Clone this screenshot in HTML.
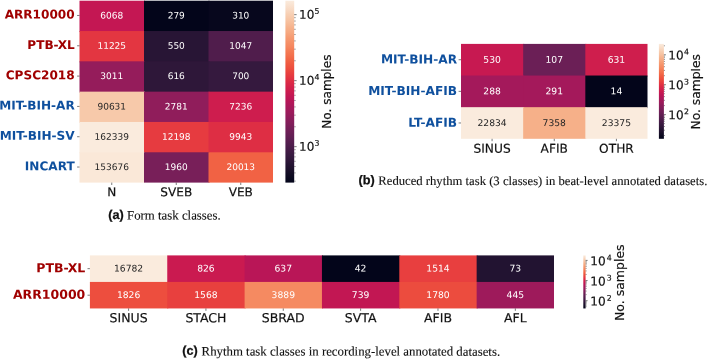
<!DOCTYPE html>
<html><head><meta charset="utf-8"><title>Figure</title>
<style>
html,body{margin:0;padding:0;background:#fff;}
svg{display:block;font-family:"DejaVu Sans","Liberation Sans",sans-serif;}
.bk{fill:#111;stroke:#111;stroke-width:0.18;}
.tk{stroke:#333;stroke-width:0.65;}
.tk2{stroke:#444;stroke-width:0.55;}
.cl{font-family:"Liberation Sans",sans-serif;font-weight:bold;fill:#111;stroke:#111;stroke-width:0.25;}
.ct{font-family:"Liberation Serif",serif;fill:#111;stroke:#111;stroke-width:0.12;}
</style></head><body>
<svg width="708" height="359" viewBox="0 0 708 359">
<defs><linearGradient id="ga" x1="0" y1="0" x2="0" y2="1"><stop offset="0.0000" stop-color="#faebdd"/><stop offset="0.0250" stop-color="#f9e2d0"/><stop offset="0.0500" stop-color="#f8d9c3"/><stop offset="0.0750" stop-color="#f7cfb3"/><stop offset="0.1000" stop-color="#f7c6a6"/><stop offset="0.1250" stop-color="#f6bc99"/><stop offset="0.1500" stop-color="#f6b18b"/><stop offset="0.1750" stop-color="#f6a880"/><stop offset="0.2000" stop-color="#f69c73"/><stop offset="0.2250" stop-color="#f59269"/><stop offset="0.2500" stop-color="#f58860"/><stop offset="0.2750" stop-color="#f47c55"/><stop offset="0.3000" stop-color="#f3714d"/><stop offset="0.3250" stop-color="#f16445"/><stop offset="0.3500" stop-color="#ef5840"/><stop offset="0.3750" stop-color="#ec4c3e"/><stop offset="0.4000" stop-color="#e83f3f"/><stop offset="0.4250" stop-color="#e23442"/><stop offset="0.4500" stop-color="#db2946"/><stop offset="0.4750" stop-color="#d3214b"/><stop offset="0.5000" stop-color="#cb1b4f"/><stop offset="0.5250" stop-color="#c11754"/><stop offset="0.5500" stop-color="#b71657"/><stop offset="0.5750" stop-color="#ab185a"/><stop offset="0.6000" stop-color="#a11a5b"/><stop offset="0.6250" stop-color="#971c5b"/><stop offset="0.6500" stop-color="#8b1d5b"/><stop offset="0.6750" stop-color="#811e5a"/><stop offset="0.7000" stop-color="#751f58"/><stop offset="0.7250" stop-color="#6b1f56"/><stop offset="0.7500" stop-color="#611f53"/><stop offset="0.7750" stop-color="#561e4f"/><stop offset="0.8000" stop-color="#4c1d4b"/><stop offset="0.8250" stop-color="#421b45"/><stop offset="0.8500" stop-color="#381a40"/><stop offset="0.8750" stop-color="#30173a"/><stop offset="0.9000" stop-color="#251433"/><stop offset="0.9250" stop-color="#1d112c"/><stop offset="0.9500" stop-color="#130d25"/><stop offset="0.9750" stop-color="#0a091f"/><stop offset="1.0000" stop-color="#03051a"/></linearGradient><linearGradient id="gb" x1="0" y1="0" x2="0" y2="1"><stop offset="0.0000" stop-color="#faebdd"/><stop offset="0.0250" stop-color="#f9e2d0"/><stop offset="0.0500" stop-color="#f8d9c3"/><stop offset="0.0750" stop-color="#f7cfb3"/><stop offset="0.1000" stop-color="#f7c6a6"/><stop offset="0.1250" stop-color="#f6bc99"/><stop offset="0.1500" stop-color="#f6b18b"/><stop offset="0.1750" stop-color="#f6a880"/><stop offset="0.2000" stop-color="#f69c73"/><stop offset="0.2250" stop-color="#f59269"/><stop offset="0.2500" stop-color="#f58860"/><stop offset="0.2750" stop-color="#f47c55"/><stop offset="0.3000" stop-color="#f3714d"/><stop offset="0.3250" stop-color="#f16445"/><stop offset="0.3500" stop-color="#ef5840"/><stop offset="0.3750" stop-color="#ec4c3e"/><stop offset="0.4000" stop-color="#e83f3f"/><stop offset="0.4250" stop-color="#e23442"/><stop offset="0.4500" stop-color="#db2946"/><stop offset="0.4750" stop-color="#d3214b"/><stop offset="0.5000" stop-color="#cb1b4f"/><stop offset="0.5250" stop-color="#c11754"/><stop offset="0.5500" stop-color="#b71657"/><stop offset="0.5750" stop-color="#ab185a"/><stop offset="0.6000" stop-color="#a11a5b"/><stop offset="0.6250" stop-color="#971c5b"/><stop offset="0.6500" stop-color="#8b1d5b"/><stop offset="0.6750" stop-color="#811e5a"/><stop offset="0.7000" stop-color="#751f58"/><stop offset="0.7250" stop-color="#6b1f56"/><stop offset="0.7500" stop-color="#611f53"/><stop offset="0.7750" stop-color="#561e4f"/><stop offset="0.8000" stop-color="#4c1d4b"/><stop offset="0.8250" stop-color="#421b45"/><stop offset="0.8500" stop-color="#381a40"/><stop offset="0.8750" stop-color="#30173a"/><stop offset="0.9000" stop-color="#251433"/><stop offset="0.9250" stop-color="#1d112c"/><stop offset="0.9500" stop-color="#130d25"/><stop offset="0.9750" stop-color="#0a091f"/><stop offset="1.0000" stop-color="#03051a"/></linearGradient><linearGradient id="gc" x1="0" y1="0" x2="0" y2="1"><stop offset="0.0000" stop-color="#faebdd"/><stop offset="0.0250" stop-color="#f9e2d0"/><stop offset="0.0500" stop-color="#f8d9c3"/><stop offset="0.0750" stop-color="#f7cfb3"/><stop offset="0.1000" stop-color="#f7c6a6"/><stop offset="0.1250" stop-color="#f6bc99"/><stop offset="0.1500" stop-color="#f6b18b"/><stop offset="0.1750" stop-color="#f6a880"/><stop offset="0.2000" stop-color="#f69c73"/><stop offset="0.2250" stop-color="#f59269"/><stop offset="0.2500" stop-color="#f58860"/><stop offset="0.2750" stop-color="#f47c55"/><stop offset="0.3000" stop-color="#f3714d"/><stop offset="0.3250" stop-color="#f16445"/><stop offset="0.3500" stop-color="#ef5840"/><stop offset="0.3750" stop-color="#ec4c3e"/><stop offset="0.4000" stop-color="#e83f3f"/><stop offset="0.4250" stop-color="#e23442"/><stop offset="0.4500" stop-color="#db2946"/><stop offset="0.4750" stop-color="#d3214b"/><stop offset="0.5000" stop-color="#cb1b4f"/><stop offset="0.5250" stop-color="#c11754"/><stop offset="0.5500" stop-color="#b71657"/><stop offset="0.5750" stop-color="#ab185a"/><stop offset="0.6000" stop-color="#a11a5b"/><stop offset="0.6250" stop-color="#971c5b"/><stop offset="0.6500" stop-color="#8b1d5b"/><stop offset="0.6750" stop-color="#811e5a"/><stop offset="0.7000" stop-color="#751f58"/><stop offset="0.7250" stop-color="#6b1f56"/><stop offset="0.7500" stop-color="#611f53"/><stop offset="0.7750" stop-color="#561e4f"/><stop offset="0.8000" stop-color="#4c1d4b"/><stop offset="0.8250" stop-color="#421b45"/><stop offset="0.8500" stop-color="#381a40"/><stop offset="0.8750" stop-color="#30173a"/><stop offset="0.9000" stop-color="#251433"/><stop offset="0.9250" stop-color="#1d112c"/><stop offset="0.9500" stop-color="#130d25"/><stop offset="0.9750" stop-color="#0a091f"/><stop offset="1.0000" stop-color="#03051a"/></linearGradient></defs>
<rect width="708" height="359" fill="#fff"/>
<rect x="79.50" y="0.70" width="65.50" height="31.32" fill="#c41753"/>
<rect x="144.00" y="0.70" width="65.50" height="31.32" fill="#03051a"/>
<rect x="208.50" y="0.70" width="64.50" height="31.32" fill="#07071d"/>
<rect x="79.50" y="31.02" width="65.50" height="31.32" fill="#e33641"/>
<rect x="144.00" y="31.02" width="65.50" height="31.32" fill="#281535"/>
<rect x="208.50" y="31.02" width="64.50" height="31.32" fill="#501d4c"/>
<rect x="79.50" y="61.33" width="65.50" height="31.32" fill="#951c5b"/>
<rect x="144.00" y="61.33" width="65.50" height="31.32" fill="#2e1739"/>
<rect x="208.50" y="61.33" width="64.50" height="31.32" fill="#35193e"/>
<rect x="79.50" y="91.65" width="65.50" height="31.32" fill="#f7c9aa"/>
<rect x="144.00" y="91.65" width="65.50" height="31.32" fill="#901d5b"/>
<rect x="208.50" y="91.65" width="64.50" height="31.32" fill="#ce1d4e"/>
<rect x="79.50" y="121.97" width="65.50" height="31.32" fill="#faebdd"/>
<rect x="144.00" y="121.97" width="65.50" height="31.32" fill="#e63b40"/>
<rect x="208.50" y="121.97" width="64.50" height="31.32" fill="#de2e44"/>
<rect x="79.50" y="152.28" width="65.50" height="30.32" fill="#fae8d8"/>
<rect x="144.00" y="152.28" width="65.50" height="30.32" fill="#781f59"/>
<rect x="208.50" y="152.28" width="64.50" height="30.32" fill="#f16244"/>
<text transform="translate(111.75,18.46) rotate(0.04)" font-size="9.0" fill="#ffffff" text-anchor="middle">6068</text>
<text transform="translate(176.25,18.46) rotate(0.04)" font-size="9.0" fill="#ffffff" text-anchor="middle">279</text>
<text transform="translate(240.75,18.46) rotate(0.04)" font-size="9.0" fill="#ffffff" text-anchor="middle">310</text>
<text transform="translate(111.75,48.78) rotate(0.04)" font-size="9.0" fill="#ffffff" text-anchor="middle">11225</text>
<text transform="translate(176.25,48.78) rotate(0.04)" font-size="9.0" fill="#ffffff" text-anchor="middle">550</text>
<text transform="translate(240.75,48.78) rotate(0.04)" font-size="9.0" fill="#ffffff" text-anchor="middle">1047</text>
<text transform="translate(111.75,79.09) rotate(0.04)" font-size="9.0" fill="#ffffff" text-anchor="middle">3011</text>
<text transform="translate(176.25,79.09) rotate(0.04)" font-size="9.0" fill="#ffffff" text-anchor="middle">616</text>
<text transform="translate(240.75,79.09) rotate(0.04)" font-size="9.0" fill="#ffffff" text-anchor="middle">700</text>
<text transform="translate(111.75,109.41) rotate(0.04)" font-size="9.0" fill="#262626" text-anchor="middle">90631</text>
<text transform="translate(176.25,109.41) rotate(0.04)" font-size="9.0" fill="#ffffff" text-anchor="middle">2781</text>
<text transform="translate(240.75,109.41) rotate(0.04)" font-size="9.0" fill="#ffffff" text-anchor="middle">7236</text>
<text transform="translate(111.75,139.72) rotate(0.04)" font-size="9.0" fill="#262626" text-anchor="middle">162339</text>
<text transform="translate(176.25,139.72) rotate(0.04)" font-size="9.0" fill="#ffffff" text-anchor="middle">12198</text>
<text transform="translate(240.75,139.72) rotate(0.04)" font-size="9.0" fill="#ffffff" text-anchor="middle">9943</text>
<text transform="translate(111.75,170.04) rotate(0.04)" font-size="9.0" fill="#262626" text-anchor="middle">153676</text>
<text transform="translate(176.25,170.04) rotate(0.04)" font-size="9.0" fill="#ffffff" text-anchor="middle">1960</text>
<text transform="translate(240.75,170.04) rotate(0.04)" font-size="9.0" fill="#ffffff" text-anchor="middle">20013</text>
<line x1="77.10" x2="79.50" y1="15.46" y2="15.46" class="tk"/>
<text transform="translate(74.70,18.61) rotate(0.04)" font-size="12.1" font-weight="bold" fill="#a00000" text-anchor="end">ARR10000</text>
<line x1="77.10" x2="79.50" y1="45.78" y2="45.78" class="tk"/>
<text transform="translate(74.70,48.93) rotate(0.04)" font-size="12.1" font-weight="bold" fill="#a00000" text-anchor="end">PTB-XL</text>
<line x1="77.10" x2="79.50" y1="76.09" y2="76.09" class="tk"/>
<text transform="translate(74.70,79.24) rotate(0.04)" font-size="12.1" font-weight="bold" fill="#a00000" text-anchor="end">CPSC2018</text>
<line x1="77.10" x2="79.50" y1="106.41" y2="106.41" class="tk"/>
<text transform="translate(74.70,109.56) rotate(0.04)" font-size="12.1" font-weight="bold" fill="#0f509e" text-anchor="end">MIT-BIH-AR</text>
<line x1="77.10" x2="79.50" y1="136.72" y2="136.72" class="tk"/>
<text transform="translate(74.70,139.88) rotate(0.04)" font-size="12.1" font-weight="bold" fill="#0f509e" text-anchor="end">MIT-BIH-SV</text>
<line x1="77.10" x2="79.50" y1="167.04" y2="167.04" class="tk"/>
<text transform="translate(74.70,170.19) rotate(0.04)" font-size="12.1" font-weight="bold" fill="#0f509e" text-anchor="end">INCART</text>
<line x1="111.75" x2="111.75" y1="182.60" y2="185.00" class="tk"/>
<text transform="translate(111.75,196.30) rotate(0.04)" font-size="12.1" class="bk" text-anchor="middle">N</text>
<line x1="176.25" x2="176.25" y1="182.60" y2="185.00" class="tk"/>
<text transform="translate(176.25,196.30) rotate(0.04)" font-size="12.1" class="bk" text-anchor="middle">SVEB</text>
<line x1="240.75" x2="240.75" y1="182.60" y2="185.00" class="tk"/>
<text transform="translate(240.75,196.30) rotate(0.04)" font-size="12.1" class="bk" text-anchor="middle">VEB</text>
<rect x="285.40" y="0.70" width="8.80" height="181.90" fill="url(#ga)"/>
<line x1="294.20" x2="295.70" y1="181.16" y2="181.16" class="tk2"/>
<line x1="294.20" x2="295.70" y1="172.91" y2="172.91" class="tk2"/>
<line x1="294.20" x2="295.70" y1="166.52" y2="166.52" class="tk2"/>
<line x1="294.20" x2="295.70" y1="161.29" y2="161.29" class="tk2"/>
<line x1="294.20" x2="295.70" y1="156.87" y2="156.87" class="tk2"/>
<line x1="294.20" x2="295.70" y1="153.05" y2="153.05" class="tk2"/>
<line x1="294.20" x2="295.70" y1="149.67" y2="149.67" class="tk2"/>
<line x1="294.20" x2="296.60" y1="146.65" y2="146.65" class="tk"/>
<text transform="translate(299.00,150.75) rotate(0.04)" font-size="12" class="bk">10<tspan dx="0.3" dy="-4.9" font-size="7.8">3</tspan></text>
<line x1="294.20" x2="295.70" y1="126.78" y2="126.78" class="tk2"/>
<line x1="294.20" x2="295.70" y1="115.16" y2="115.16" class="tk2"/>
<line x1="294.20" x2="295.70" y1="106.91" y2="106.91" class="tk2"/>
<line x1="294.20" x2="295.70" y1="100.52" y2="100.52" class="tk2"/>
<line x1="294.20" x2="295.70" y1="95.29" y2="95.29" class="tk2"/>
<line x1="294.20" x2="295.70" y1="90.87" y2="90.87" class="tk2"/>
<line x1="294.20" x2="295.70" y1="87.05" y2="87.05" class="tk2"/>
<line x1="294.20" x2="295.70" y1="83.67" y2="83.67" class="tk2"/>
<line x1="294.20" x2="296.60" y1="80.65" y2="80.65" class="tk"/>
<text transform="translate(299.00,84.75) rotate(0.04)" font-size="12" class="bk">10<tspan dx="0.3" dy="-4.9" font-size="7.8">4</tspan></text>
<line x1="294.20" x2="295.70" y1="60.78" y2="60.78" class="tk2"/>
<line x1="294.20" x2="295.70" y1="49.16" y2="49.16" class="tk2"/>
<line x1="294.20" x2="295.70" y1="40.91" y2="40.91" class="tk2"/>
<line x1="294.20" x2="295.70" y1="34.52" y2="34.52" class="tk2"/>
<line x1="294.20" x2="295.70" y1="29.29" y2="29.29" class="tk2"/>
<line x1="294.20" x2="295.70" y1="24.87" y2="24.87" class="tk2"/>
<line x1="294.20" x2="295.70" y1="21.05" y2="21.05" class="tk2"/>
<line x1="294.20" x2="295.70" y1="17.67" y2="17.67" class="tk2"/>
<line x1="294.20" x2="296.60" y1="14.65" y2="14.65" class="tk"/>
<text transform="translate(299.00,18.75) rotate(0.04)" font-size="12" class="bk">10<tspan dx="0.3" dy="-4.9" font-size="7.8">5</tspan></text>
<text transform="translate(331.00,91.65) rotate(-90)" font-size="12.1" class="bk" text-anchor="middle">No. samples</text>
<rect x="461.00" y="43.90" width="63.17" height="32.63" fill="#c71951"/>
<rect x="523.17" y="43.90" width="63.17" height="32.63" fill="#6b1f56"/>
<rect x="585.33" y="43.90" width="62.17" height="32.63" fill="#cf1e4d"/>
<rect x="461.00" y="75.53" width="63.17" height="32.63" fill="#a4195b"/>
<rect x="523.17" y="75.53" width="63.17" height="32.63" fill="#a4195b"/>
<rect x="585.33" y="75.53" width="62.17" height="32.63" fill="#03051a"/>
<rect x="461.00" y="107.17" width="63.17" height="31.63" fill="#faebdd"/>
<rect x="523.17" y="107.17" width="63.17" height="31.63" fill="#f6b089"/>
<rect x="585.33" y="107.17" width="62.17" height="31.63" fill="#faebdd"/>
<text transform="translate(492.08,62.72) rotate(0.04)" font-size="9.2" fill="#ffffff" text-anchor="middle">530</text>
<text transform="translate(554.25,62.72) rotate(0.04)" font-size="9.2" fill="#ffffff" text-anchor="middle">107</text>
<text transform="translate(616.42,62.72) rotate(0.04)" font-size="9.2" fill="#ffffff" text-anchor="middle">631</text>
<text transform="translate(492.08,94.35) rotate(0.04)" font-size="9.2" fill="#ffffff" text-anchor="middle">288</text>
<text transform="translate(554.25,94.35) rotate(0.04)" font-size="9.2" fill="#ffffff" text-anchor="middle">291</text>
<text transform="translate(616.42,94.35) rotate(0.04)" font-size="9.2" fill="#ffffff" text-anchor="middle">14</text>
<text transform="translate(492.08,125.98) rotate(0.04)" font-size="9.2" fill="#262626" text-anchor="middle">22834</text>
<text transform="translate(554.25,125.98) rotate(0.04)" font-size="9.2" fill="#262626" text-anchor="middle">7358</text>
<text transform="translate(616.42,125.98) rotate(0.04)" font-size="9.2" fill="#262626" text-anchor="middle">23375</text>
<line x1="458.60" x2="461.00" y1="59.72" y2="59.72" class="tk"/>
<text transform="translate(457.10,63.42) rotate(0.04)" font-size="12.2" font-weight="bold" fill="#0f509e" text-anchor="end">MIT-BIH-AR</text>
<line x1="458.60" x2="461.00" y1="91.35" y2="91.35" class="tk"/>
<text transform="translate(457.10,95.05) rotate(0.04)" font-size="12.2" font-weight="bold" fill="#0f509e" text-anchor="end">MIT-BIH-AFIB</text>
<line x1="458.60" x2="461.00" y1="122.98" y2="122.98" class="tk"/>
<text transform="translate(457.10,126.68) rotate(0.04)" font-size="12.2" font-weight="bold" fill="#0f509e" text-anchor="end">LT-AFIB</text>
<line x1="492.08" x2="492.08" y1="138.80" y2="141.20" class="tk"/>
<text transform="translate(492.08,152.70) rotate(0.04)" font-size="12.2" class="bk" text-anchor="middle">SINUS</text>
<line x1="554.25" x2="554.25" y1="138.80" y2="141.20" class="tk"/>
<text transform="translate(554.25,152.70) rotate(0.04)" font-size="12.2" class="bk" text-anchor="middle">AFIB</text>
<line x1="616.42" x2="616.42" y1="138.80" y2="141.20" class="tk"/>
<text transform="translate(616.42,152.70) rotate(0.04)" font-size="12.2" class="bk" text-anchor="middle">OTHR</text>
<rect x="658.90" y="43.90" width="5.00" height="94.90" fill="url(#gb)"/>
<line x1="663.90" x2="665.00" y1="135.50" y2="135.50" class="tk2"/>
<line x1="663.90" x2="665.00" y1="130.23" y2="130.23" class="tk2"/>
<line x1="663.90" x2="665.00" y1="126.50" y2="126.50" class="tk2"/>
<line x1="663.90" x2="665.00" y1="123.60" y2="123.60" class="tk2"/>
<line x1="663.90" x2="665.00" y1="121.23" y2="121.23" class="tk2"/>
<line x1="663.90" x2="665.00" y1="119.23" y2="119.23" class="tk2"/>
<line x1="663.90" x2="665.00" y1="117.50" y2="117.50" class="tk2"/>
<line x1="663.90" x2="665.00" y1="115.97" y2="115.97" class="tk2"/>
<line x1="663.90" x2="665.90" y1="114.60" y2="114.60" class="tk"/>
<text transform="translate(668.30,119.20) rotate(0.04)" font-size="12" class="bk">10<tspan dx="0.3" dy="-4.9" font-size="7.8">2</tspan></text>
<line x1="663.90" x2="665.00" y1="105.60" y2="105.60" class="tk2"/>
<line x1="663.90" x2="665.00" y1="100.33" y2="100.33" class="tk2"/>
<line x1="663.90" x2="665.00" y1="96.60" y2="96.60" class="tk2"/>
<line x1="663.90" x2="665.00" y1="93.70" y2="93.70" class="tk2"/>
<line x1="663.90" x2="665.00" y1="91.33" y2="91.33" class="tk2"/>
<line x1="663.90" x2="665.00" y1="89.33" y2="89.33" class="tk2"/>
<line x1="663.90" x2="665.00" y1="87.60" y2="87.60" class="tk2"/>
<line x1="663.90" x2="665.00" y1="86.07" y2="86.07" class="tk2"/>
<line x1="663.90" x2="665.90" y1="84.70" y2="84.70" class="tk"/>
<text transform="translate(668.30,89.30) rotate(0.04)" font-size="12" class="bk">10<tspan dx="0.3" dy="-4.9" font-size="7.8">3</tspan></text>
<line x1="663.90" x2="665.00" y1="75.70" y2="75.70" class="tk2"/>
<line x1="663.90" x2="665.00" y1="70.43" y2="70.43" class="tk2"/>
<line x1="663.90" x2="665.00" y1="66.70" y2="66.70" class="tk2"/>
<line x1="663.90" x2="665.00" y1="63.80" y2="63.80" class="tk2"/>
<line x1="663.90" x2="665.00" y1="61.43" y2="61.43" class="tk2"/>
<line x1="663.90" x2="665.00" y1="59.43" y2="59.43" class="tk2"/>
<line x1="663.90" x2="665.00" y1="57.70" y2="57.70" class="tk2"/>
<line x1="663.90" x2="665.00" y1="56.17" y2="56.17" class="tk2"/>
<line x1="663.90" x2="665.90" y1="54.80" y2="54.80" class="tk"/>
<text transform="translate(668.30,59.40) rotate(0.04)" font-size="12" class="bk">10<tspan dx="0.3" dy="-4.9" font-size="7.8">4</tspan></text>
<line x1="663.90" x2="665.00" y1="45.80" y2="45.80" class="tk2"/>
<text transform="translate(700.10,91.85) rotate(-90)" font-size="12.3" class="bk" text-anchor="middle">No. samples</text>
<rect x="89.90" y="255.40" width="78.35" height="27.52" fill="#faebdd"/>
<rect x="167.25" y="255.40" width="78.35" height="27.52" fill="#ca1a50"/>
<rect x="244.60" y="255.40" width="78.35" height="27.52" fill="#b91657"/>
<rect x="321.95" y="255.40" width="78.35" height="27.52" fill="#03051a"/>
<rect x="399.30" y="255.40" width="78.35" height="27.52" fill="#e83f3f"/>
<rect x="476.65" y="255.40" width="77.35" height="27.52" fill="#221331"/>
<rect x="89.90" y="281.93" width="78.35" height="26.52" fill="#ed4e3e"/>
<rect x="167.25" y="281.93" width="78.35" height="26.52" fill="#e8403e"/>
<rect x="244.60" y="281.93" width="78.35" height="26.52" fill="#f58a61"/>
<rect x="321.95" y="281.93" width="78.35" height="26.52" fill="#c21753"/>
<rect x="399.30" y="281.93" width="78.35" height="26.52" fill="#ec4c3e"/>
<rect x="476.65" y="281.93" width="77.35" height="26.52" fill="#9e1a5b"/>
<text transform="translate(128.58,271.56) rotate(0.04)" font-size="9.2" fill="#262626" text-anchor="middle">16782</text>
<text transform="translate(205.93,271.56) rotate(0.04)" font-size="9.2" fill="#ffffff" text-anchor="middle">826</text>
<text transform="translate(283.28,271.56) rotate(0.04)" font-size="9.2" fill="#ffffff" text-anchor="middle">637</text>
<text transform="translate(360.62,271.56) rotate(0.04)" font-size="9.2" fill="#ffffff" text-anchor="middle">42</text>
<text transform="translate(437.98,271.56) rotate(0.04)" font-size="9.2" fill="#ffffff" text-anchor="middle">1514</text>
<text transform="translate(515.33,271.56) rotate(0.04)" font-size="9.2" fill="#ffffff" text-anchor="middle">73</text>
<text transform="translate(128.58,298.09) rotate(0.04)" font-size="9.2" fill="#ffffff" text-anchor="middle">1826</text>
<text transform="translate(205.93,298.09) rotate(0.04)" font-size="9.2" fill="#ffffff" text-anchor="middle">1568</text>
<text transform="translate(283.28,298.09) rotate(0.04)" font-size="9.2" fill="#ffffff" text-anchor="middle">3889</text>
<text transform="translate(360.62,298.09) rotate(0.04)" font-size="9.2" fill="#ffffff" text-anchor="middle">739</text>
<text transform="translate(437.98,298.09) rotate(0.04)" font-size="9.2" fill="#ffffff" text-anchor="middle">1780</text>
<text transform="translate(515.33,298.09) rotate(0.04)" font-size="9.2" fill="#ffffff" text-anchor="middle">445</text>
<line x1="87.50" x2="89.90" y1="268.66" y2="268.66" class="tk"/>
<text transform="translate(85.30,272.26) rotate(0.04)" font-size="12.5" font-weight="bold" fill="#a00000" text-anchor="end">PTB-XL</text>
<line x1="87.50" x2="89.90" y1="295.19" y2="295.19" class="tk"/>
<text transform="translate(85.30,298.79) rotate(0.04)" font-size="12.5" font-weight="bold" fill="#a00000" text-anchor="end">ARR10000</text>
<line x1="128.58" x2="128.58" y1="308.45" y2="310.85" class="tk"/>
<text transform="translate(128.58,322.20) rotate(0.04)" font-size="12.5" class="bk" text-anchor="middle">SINUS</text>
<line x1="205.93" x2="205.93" y1="308.45" y2="310.85" class="tk"/>
<text transform="translate(205.93,322.20) rotate(0.04)" font-size="12.5" class="bk" text-anchor="middle">STACH</text>
<line x1="283.28" x2="283.28" y1="308.45" y2="310.85" class="tk"/>
<text transform="translate(283.28,322.20) rotate(0.04)" font-size="12.5" class="bk" text-anchor="middle">SBRAD</text>
<line x1="360.62" x2="360.62" y1="308.45" y2="310.85" class="tk"/>
<text transform="translate(360.62,322.20) rotate(0.04)" font-size="12.5" class="bk" text-anchor="middle">SVTA</text>
<line x1="437.98" x2="437.98" y1="308.45" y2="310.85" class="tk"/>
<text transform="translate(437.98,322.20) rotate(0.04)" font-size="12.5" class="bk" text-anchor="middle">AFIB</text>
<line x1="515.33" x2="515.33" y1="308.45" y2="310.85" class="tk"/>
<text transform="translate(515.33,322.20) rotate(0.04)" font-size="12.5" class="bk" text-anchor="middle">AFL</text>
<rect x="583.30" y="255.40" width="2.30" height="53.05" fill="url(#gc)"/>
<line x1="585.60" x2="586.70" y1="306.74" y2="306.74" class="tk2"/>
<line x1="585.60" x2="586.70" y1="305.15" y2="305.15" class="tk2"/>
<line x1="585.60" x2="586.70" y1="303.80" y2="303.80" class="tk2"/>
<line x1="585.60" x2="586.70" y1="302.63" y2="302.63" class="tk2"/>
<line x1="585.60" x2="586.70" y1="301.60" y2="301.60" class="tk2"/>
<line x1="585.60" x2="587.60" y1="300.68" y2="300.68" class="tk"/>
<text transform="translate(590.30,305.58) rotate(0.04)" font-size="12.15" class="bk">10<tspan dx="0.9" dy="-4.9" font-size="7.8">2</tspan></text>
<line x1="585.60" x2="586.70" y1="294.62" y2="294.62" class="tk2"/>
<line x1="585.60" x2="586.70" y1="291.07" y2="291.07" class="tk2"/>
<line x1="585.60" x2="586.70" y1="288.55" y2="288.55" class="tk2"/>
<line x1="585.60" x2="586.70" y1="286.60" y2="286.60" class="tk2"/>
<line x1="585.60" x2="586.70" y1="285.01" y2="285.01" class="tk2"/>
<line x1="585.60" x2="586.70" y1="283.66" y2="283.66" class="tk2"/>
<line x1="585.60" x2="586.70" y1="282.49" y2="282.49" class="tk2"/>
<line x1="585.60" x2="586.70" y1="281.46" y2="281.46" class="tk2"/>
<line x1="585.60" x2="587.60" y1="280.54" y2="280.54" class="tk"/>
<text transform="translate(590.30,285.44) rotate(0.04)" font-size="12.15" class="bk">10<tspan dx="0.9" dy="-4.9" font-size="7.8">3</tspan></text>
<line x1="585.60" x2="586.70" y1="274.48" y2="274.48" class="tk2"/>
<line x1="585.60" x2="586.70" y1="270.93" y2="270.93" class="tk2"/>
<line x1="585.60" x2="586.70" y1="268.41" y2="268.41" class="tk2"/>
<line x1="585.60" x2="586.70" y1="266.46" y2="266.46" class="tk2"/>
<line x1="585.60" x2="586.70" y1="264.87" y2="264.87" class="tk2"/>
<line x1="585.60" x2="586.70" y1="263.52" y2="263.52" class="tk2"/>
<line x1="585.60" x2="586.70" y1="262.35" y2="262.35" class="tk2"/>
<line x1="585.60" x2="586.70" y1="261.32" y2="261.32" class="tk2"/>
<line x1="585.60" x2="587.60" y1="260.40" y2="260.40" class="tk"/>
<text transform="translate(590.30,265.30) rotate(0.04)" font-size="12.15" class="bk">10<tspan dx="0.9" dy="-4.9" font-size="7.8">4</tspan></text>
<text transform="translate(623.70,282.73) rotate(-90)" font-size="12.5" class="bk" text-anchor="middle">No. samples</text>
<text transform="translate(108.3,218.90) rotate(0.04)" class="cl" font-size="12.7">(a)</text>
<text transform="translate(127.0,219.5) rotate(0.04)" class="ct" font-size="12.83">Form task classes.</text>
<text transform="translate(358.5,184.25) rotate(0.04)" class="cl" font-size="12.7">(b)</text>
<text transform="translate(378.3,184.85) rotate(0.04)" class="ct" font-size="12.68">Reduced rhythm task (3 classes) in beat-level annotated datasets.</text>
<text transform="translate(182.3,354.85) rotate(0.04)" class="cl" font-size="12.7">(c)</text>
<text transform="translate(201.6,355.45) rotate(0.04)" class="ct" font-size="12.82">Rhythm task classes in recording-level annotated datasets.</text>
</svg>
</body></html>
